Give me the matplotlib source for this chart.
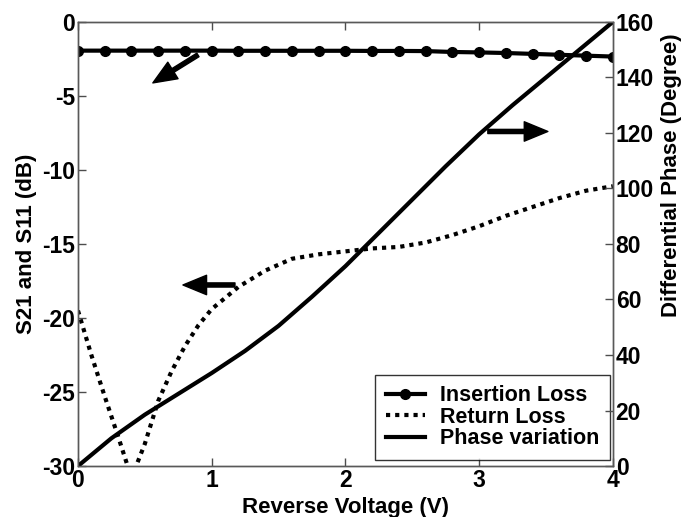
import matplotlib
matplotlib.use('Agg')
import matplotlib.pyplot as plt

plt.rcParams['font.family'] = ['Liberation Sans', 'DejaVu Sans']
plt.rcParams['font.weight'] = 'bold'
plt.rcParams['axes.unicode_minus'] = False

# insertion loss (S21), 21 points every 0.2 V
il_v = [0.0, 0.2, 0.4, 0.6, 0.8, 1.0, 1.2, 1.4, 1.6, 1.8, 2.0,
        2.2, 2.4, 2.6, 2.8, 3.0, 3.2, 3.4, 3.6, 3.8, 4.0]
il_db = [-1.94, -1.94, -1.94, -1.94, -1.94, -1.94, -1.95, -1.95, -1.95, -1.95, -1.95,
         -1.96, -1.96, -1.97, -2.03, -2.06, -2.1, -2.16, -2.22, -2.28, -2.34]

# return loss (S11)
rl_v = [0.0, 0.1, 0.2, 0.3, 0.4, 0.5, 0.6, 0.7, 0.8, 0.9, 1.0, 1.2, 1.4,
        1.6, 1.8, 2.0, 2.2, 2.4, 2.6, 2.8, 3.0, 3.2, 3.4, 3.6, 3.8, 4.0]
rl_db = [-19.5, -22.5, -25.3, -28.0, -30.8, -28.5, -25.6, -23.6, -21.9, -20.5, -19.4,
         -17.9, -16.8, -16.0, -15.7, -15.5, -15.3, -15.2, -14.9, -14.4, -13.8,
         -13.1, -12.5, -11.9, -11.4, -11.1]

# differential phase
ph_v = [0, 0.25, 0.5, 0.75, 1.0, 1.25, 1.5, 1.75, 2.0, 2.25, 2.5,
        2.75, 3.0, 3.25, 3.5, 3.75, 4.0]
ph_deg = [0, 10, 18.5, 26, 33.5, 41.5, 50.5, 61, 72, 84, 96,
          108, 119.5, 130, 140, 150, 160]

fig = plt.figure(figsize=(6.84, 5.17), dpi=100)
ax = fig.add_axes([0.114, 0.0986, 0.782, 0.859])
ax2 = ax.twinx()

l1, = ax.plot(il_v, il_db, color='k', lw=3, marker='o', ms=7, label='Insertion Loss')
l2, = ax.plot(rl_v, rl_db, color='k', lw=3, linestyle=(0, (1, 1.2)), label='Return Loss')
l3, = ax2.plot(ph_v, ph_deg, color='k', lw=3, label='Phase variation')

ax.set_xlim(0, 4)
ax.set_ylim(-30, 0)
ax2.set_ylim(0, 160)
ax.set_xticks([0, 1, 2, 3, 4])
ax.set_yticks([-30, -25, -20, -15, -10, -5, 0])
ax2.set_yticks([0, 20, 40, 60, 80, 100, 120, 140, 160])

for a in (ax, ax2):
    a.tick_params(direction='in', labelsize=16.5, length=6, width=1, color='0.3', pad=2)
    for s in a.spines.values():
        s.set_color('0.35')
        s.set_linewidth(1)
    for lab in a.get_xticklabels() + a.get_yticklabels():
        lab.set_fontweight('bold')
ax.tick_params(top=True)

ax.set_xlabel('Reverse Voltage (V)', fontsize=16, fontweight='bold', labelpad=4)
ax.set_ylabel('S21 and S11 (dB)', fontsize=16, fontweight='bold', labelpad=4)
ax2.set_ylabel('Differential Phase (Degree)', fontsize=16, fontweight='bold')
ax2.yaxis.set_label_coords(1.09, 0.655)

arrow = dict(width=3, headwidth=14, headlength=17, facecolor='k', edgecolor='k', shrink=0)
ax.annotate('', xy=(0.56, -4.12), xytext=(0.897, -2.23), arrowprops=arrow)
ax.annotate('', xy=(0.785, -17.77), xytext=(1.174, -17.77), arrowprops=arrow)
ax.annotate('', xy=(3.514, -7.4), xytext=(3.065, -7.4), arrowprops=arrow)

leg = ax.legend(handles=[l1, l2, l3], loc='lower right', bbox_to_anchor=(0.9944, 0.0135),
                fontsize=15.5, frameon=True, fancybox=False, handlelength=1.8,
                borderaxespad=0, labelspacing=0.02, borderpad=0.5, handletextpad=0.7)
leg.get_frame().set_edgecolor('k')
leg.get_frame().set_linewidth(1)
leg.set_zorder(10)
for t in leg.get_texts():
    t.set_fontweight('bold')

fig.savefig('out.png', dpi=100)
